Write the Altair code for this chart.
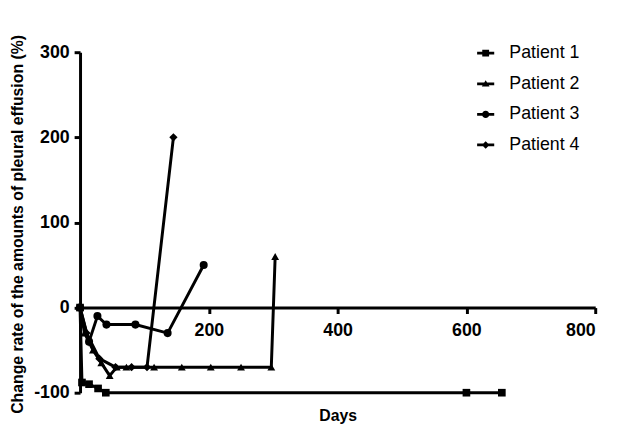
import altair as alt
import pandas as pd

patients = ["Patient 1", "Patient 2", "Patient 3", "Patient 4"]

p1_days = [0, 3, 14, 28, 40, 600, 655]
p1_vals = [0, -88, -90, -95, -100, -100, -100]

p2_days = [0, 7, 20, 33, 46, 57, 72, 115, 158, 203, 250, 297, 303]
p2_vals = [0, -30, -50, -65, -80, -70, -70, -70, -70, -70, -70, -70, 60]

p3_days = [0, 14, 27, 41, 86, 136, 192]
p3_vals = [0, -40, -10, -20, -20, -30, 50]

p4_days = [0, 10, 30, 55, 80, 104, 145]
p4_vals = [0, -30, -60, -70, -70, -70, 200]

series = [(p1_days, p1_vals), (p2_days, p2_vals), (p3_days, p3_vals), (p4_days, p4_vals)]
rows = []
for name, (ds, vs) in zip(patients, series):
    for d, v in zip(ds, vs):
        rows.append({"patient": name, "days": d, "value": v})
df = pd.DataFrame(rows)

x_ticks = [200, 400, 600, 800]
y_ticks = [-100, 0, 100, 200, 300]

FONT = "Liberation Sans"

x = alt.X("days:Q",
          scale=alt.Scale(domain=[0, 800], nice=False, zero=False),
          axis=alt.Axis(values=x_ticks, title="Days", offset=-86.25,
                        titleY=114, titleBaseline="alphabetic",
                        titleFontSize=16, titleFontWeight="bold",
                        labelFontSize=18, labelFontWeight="bold",
                        labelPadding=8, grid=False))
y = alt.Y("value:Q",
          scale=alt.Scale(domain=[-100, 300], nice=False, zero=False),
          axis=alt.Axis(values=y_ticks,
                        title="Change rate of the amounts of pleural effusion (%)",
                        labelExpr="'' + datum.value",
                        titleX=-63, titleY=174, titleAngle=270,
                        titleAlign="center", titleBaseline="middle",
                        titleFontSize=16, titleFontWeight="bold",
                        labelFontSize=18, labelFontWeight="bold",
                        labelPadding=5, grid=False))

base = alt.Chart(df)

lines = base.mark_line(color="black", strokeWidth=3).encode(
    x=x, y=y, detail="patient:N")

points = base.mark_point(filled=True, color="black", opacity=1).encode(
    x=x, y=y,
    shape=alt.Shape("patient:N",
                    scale=alt.Scale(domain=patients,
                                    range=["square", "triangle-up", "circle", "diamond"]),
                    legend=None),
    size=alt.Size("patient:N",
                  scale=alt.Scale(domain=patients, range=[60, 70, 90, 80]),
                  legend=None))

legend_paths = [
    "M-1,-0.16H1V0.16H-1ZM-0.4,-0.4H0.4V0.4H-0.4Z",
    "M-1,-0.16H1V0.16H-1ZM0,-0.42L0.45,0.32H-0.45Z",
    "M-1,-0.16H1V0.16H-1ZM-0.42,0A0.42,0.42 0 1,1 0.42,0A0.42,0.42 0 1,1 -0.42,0Z",
    "M-1,-0.16H1V0.16H-1ZM0,-0.45L0.45,0L0,0.45L-0.45,0Z",
]

legend_layer = base.mark_point(filled=True, color="black", opacity=0).encode(
    x=x, y=y,
    shape=alt.Shape("patient:N",
                    scale=alt.Scale(domain=patients, range=legend_paths),
                    legend=alt.Legend(title=None, orient="none",
                                      legendX=402, legendY=-8,
                                      symbolSize=300, symbolOpacity=1,
                                      symbolFillColor="black",
                                      symbolStrokeWidth=0,
                                      labelFontSize=18, labelFont=FONT,
                                      labelColor="black", labelOffset=15,
                                      rowPadding=13, padding=0)))

chart = alt.layer(lines, points, legend_layer).resolve_scale(
    shape="independent"
).properties(
    width=522, height=345,
    autosize=alt.AutoSizeParams(type="none"),
    padding={"left": 73, "top": 42, "right": 17, "bottom": 35},
).configure_view(stroke=None).configure_axis(
    domainColor="black", domainWidth=3, tickColor="black", tickWidth=3,
    tickSize=6, labelColor="black", titleColor="black",
    labelFont=FONT, titleFont=FONT,
)

chart.save("out.html", embed_options={"renderer": "svg", "actions": False})
